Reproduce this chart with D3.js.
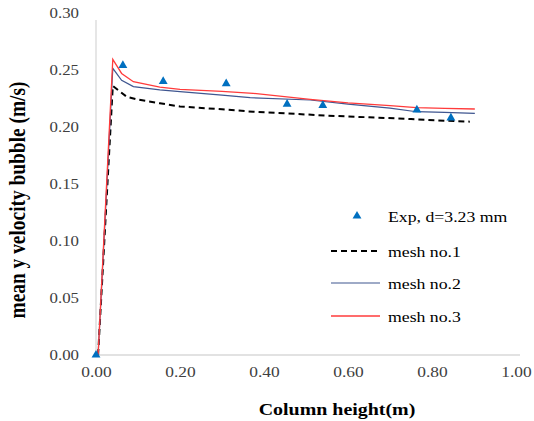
<!DOCTYPE html>
<html>
<head>
<meta charset="utf-8">
<script src="https://cdn.jsdelivr.net/npm/d3@7"></script>
<style>
  html, body { margin: 0; padding: 0; background: #fff; }
  svg { display: block; }
  svg text { font-family: "Liberation Serif", "Times New Roman", Times, "DejaVu Serif", serif !important; }
</style>
</head>
<body>
<svg id="chart" width="534" height="421"></svg>
<script>
// Experimental bubble velocity measurements
const expHeight = [0.0, 0.064, 0.16, 0.31, 0.455, 0.54, 0.764, 0.845];
const expVelocity = [0.0, 0.254, 0.240, 0.238, 0.220, 0.219, 0.215, 0.208];

// Simulated profiles for three mesh resolutions
const mesh1Height = [0.005, 0.040, 0.073, 0.10, 0.152, 0.20, 0.30, 0.374, 0.45, 0.55, 0.65, 0.75, 0.83, 0.89];
const mesh1Velocity = [0.0, 0.236, 0.2266, 0.224, 0.2208, 0.218, 0.2155, 0.2134, 0.212, 0.210, 0.2085, 0.207, 0.2055, 0.2047];

const mesh2Height = [0.005, 0.040, 0.061, 0.089, 0.152, 0.20, 0.30, 0.367, 0.51, 0.60, 0.70, 0.763, 0.83, 0.902];
const mesh2Velocity = [0.0, 0.2515, 0.241, 0.2354, 0.2325, 0.231, 0.228, 0.2257, 0.2237, 0.2200, 0.2165, 0.2134, 0.2128, 0.212];

const mesh3Height = [0.005, 0.040, 0.061, 0.089, 0.152, 0.20, 0.30, 0.374, 0.51, 0.60, 0.70, 0.763, 0.83, 0.902];
const mesh3Velocity = [0.0, 0.2594, 0.247, 0.2397, 0.235, 0.233, 0.2312, 0.2295, 0.2243, 0.2212, 0.2188, 0.217, 0.2163, 0.2158];

const xTicks = [0, 0.2, 0.4, 0.6, 0.8, 1.0];
const yTicks = [0, 0.05, 0.10, 0.15, 0.20, 0.25, 0.30];

const legendLabels = ["Exp, d=3.23 mm", "mesh no.1", "mesh no.2", "mesh no.3"];

const serif = "'Liberation Serif', 'Times New Roman', Times, 'DejaVu Serif', serif";
// the whole figure uses slightly widened lettering
const wide = 1.16;

const svg = d3.select("#chart");
const plot = { left: 96, right: 516, top: 13, bottom: 355 };

const x = d3.scaleLinear().domain([0, 1]).range([plot.left, plot.right]);
const y = d3.scaleLinear().domain([0, 0.30]).range([plot.bottom, plot.top]);

// Axes
const xAxis = d3.axisBottom(x).tickValues(xTicks).tickFormat(d3.format(".2f")).tickSize(0).tickPadding(11);
const yAxis = d3.axisLeft(y).tickValues(yTicks).tickFormat(d3.format(".2f")).tickSize(0).tickPadding(17 / wide);

const gx = svg.append("g").attr("transform", `translate(0,${plot.bottom})`).call(xAxis)
  .attr("font-family", serif);
gx.select(".domain").attr("stroke", "#d9d9d9").attr("stroke-width", 1.3)
  .attr("d", `M${plot.left},0H${plot.right + 4}`);
gx.selectAll("text").attr("font-size", 15).attr("fill", "#404040")
  .attr("transform", `scale(${wide},1)`);

const gy = svg.append("g").attr("transform", `translate(${plot.left},0)`).call(yAxis)
  .attr("font-family", serif);
gy.select(".domain").attr("stroke", "#d9d9d9").attr("stroke-width", 1.3)
  .attr("d", `M0,${plot.top + 7}V${plot.bottom}`);
gy.selectAll("text").attr("font-size", 14.5).attr("fill", "#404040")
  .attr("transform", `scale(${wide},1)`);

// Axis titles
svg.append("text")
  .attr("transform", `translate(337,415) scale(${wide},1)`)
  .attr("text-anchor", "middle")
  .attr("font-size", 17.2).attr("font-weight", "bold").attr("fill", "#000")
  .text("Column height(m)");

svg.append("text")
  .attr("transform", `translate(25,200) scale(${wide},1) rotate(-90)`)
  .attr("text-anchor", "middle")
  .attr("font-size", 19.4).attr("font-weight", "bold").attr("fill", "#000")
  .text("mean y velocity bubble (m/s)");

// Simulation lines
const line = d3.line().x(d => x(d[0])).y(d => y(d[1]));
const series = [
  { h: mesh1Height, v: mesh1Velocity, color: "#000000", width: 2, dash: "6,4" },
  { h: mesh2Height, v: mesh2Velocity, color: "#3f5690", width: 1.2, dash: null },
  { h: mesh3Height, v: mesh3Velocity, color: "#ff3b3b", width: 1.3, dash: null }
];

series.forEach(s => {
  svg.append("path")
    .datum(d3.zip(s.h, s.v))
    .attr("fill", "none")
    .attr("stroke", s.color)
    .attr("stroke-width", s.width)
    .attr("stroke-dasharray", s.dash)
    .attr("d", line);
});

// Experimental markers
const tri = d3.symbol().type(d3.symbolTriangle).size(34);
svg.append("g").selectAll("path")
  .data(d3.zip(expHeight, expVelocity))
  .join("path")
  .attr("d", tri)
  .attr("fill", "#0070c0")
  .attr("transform", d => `translate(${x(d[0])},${y(d[1])})`);

// Legend
const legend = svg.append("g");
const rowY = [216, 251, 283, 316];
legend.append("path").attr("d", tri).attr("fill", "#0070c0")
  .attr("transform", `translate(357,${rowY[0]})`);
series.forEach((s, i) => {
  legend.append("line")
    .attr("x1", 331).attr("x2", 380)
    .attr("y1", rowY[i + 1]).attr("y2", rowY[i + 1])
    .attr("stroke", s.color)
    .attr("stroke-width", s.width)
    .attr("stroke-dasharray", s.dash);
});
legendLabels.forEach((t, i) => {
  legend.append("text")
    .attr("transform", `translate(388,${rowY[i] + 6}) scale(${wide},1)`)
    .attr("font-size", 15.3).attr("fill", "#000")
    .text(t);
});
</script>
</body>
</html>
